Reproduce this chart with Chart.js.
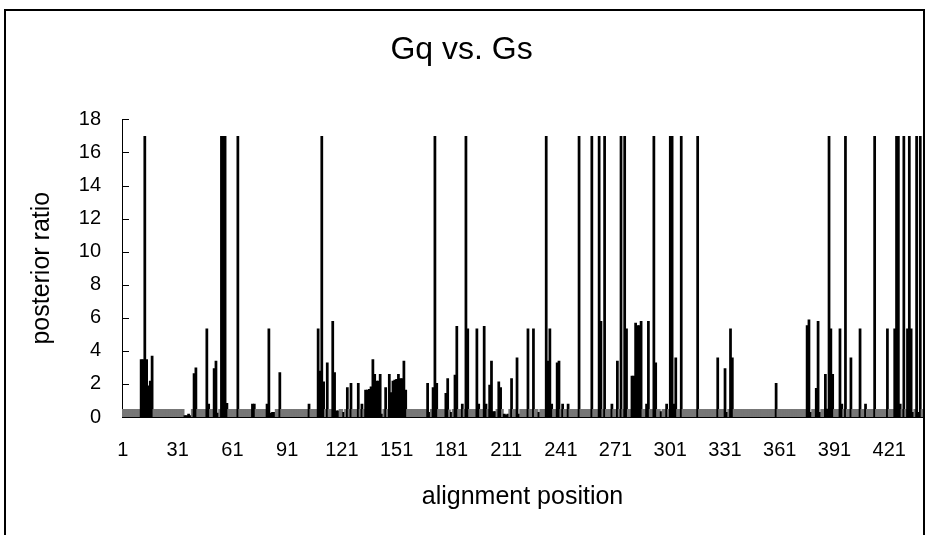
<!DOCTYPE html>
<html>
<head>
<meta charset="utf-8">
<script src="https://cdn.jsdelivr.net/npm/chart.js@4.4.1/dist/chart.umd.min.js"></script>
<style>
    body { margin: 0; background: #fff; overflow: hidden; }
    #wrap { position: relative; width: 928px; height: 535px; }
    #frame {
        position: absolute; left: 4px; top: 9px; width: 921px; height: 600px;
        border: 2px solid #000; box-sizing: border-box; pointer-events: none;
    }
</style>
</head>
<body>
<div id="wrap">
    <canvas id="ratioChart" width="928" height="535"></canvas>
    <div id="frame"></div>
</div>
<script>
// posterior ratio per alignment position (1..439), 30 per row
const posteriorRatio = [
    0.48,0.48,0.48,0.48,0.48,0.48,0.48,0.48,0.48,0.48, 3.5,3.5,17,3.5,1.9,2.2,3.7,0.48,0.48,0.48, 0.48,0.48,0.48,0.48,0.48,0.48,0.48,0.48,0.48,0.48,
    0.48,0.48,0.48,0.48, 0.1,0.1,0.2,0.1, 0.48, 2.65, 3.0, 0.48,0.48,0.48,0.48,0.48, 5.35, 0.8, 0.48,0.48, 2.95,3.4,0.25,0.48, 17,17,17, 0.85, 0.48,0.48,
    0.48,0.48,0.48, 17, 0.48,0.48,0.48,0.48,0.48,0.48,0.48, 0.8,0.8, 0.48,0.48,0.48,0.48,0.48,0.48, 0.8,5.35,0.25,0.3,0.3, 0.48,0.48, 2.7, 0.48,0.48,0.48,
    0.48,0.48,0.48,0.48,0.48,0.48,0.48,0.48,0.48,0.48,0.48,0.48, 0.8, 0.48,0.48,0.48,0.48, 5.35,2.8,17,2.15,0.48,3.3,0.48,0.48,5.8,2.7, 0.4,0.4,0.48,
    0.48,0.3,0.48, 1.8, 0.48, 2.05, 0.48,0.48,0.48, 2.05, 0.48, 0.8, 0.48, 1.65,1.65,1.7,1.85,3.5,2.6,2.2,2.2,2.6,0.2, 0.48, 1.8, 0.48, 2.6,1.5,2.2,2.25,
    2.3,2.6,2.35,2.35,3.4,1.65, 0.48,0.48,0.48,0.48,0.48,0.48,0.48,0.48,0.48,0.48,0.48, 2.05,0.3, 0.48, 1.8,17,2.05, 0.48,0.48,0.48,0.48, 1.45,2.35,0.45,
    0.3, 0.48, 2.55,5.5, 0.48,0.48, 0.8, 0.48, 17,5.35, 0.48,0.48,0.48,0.48, 5.35,0.8, 0.48,0.48, 5.5,0.8, 0.48, 1.95,3.4, 0.35,0.35,0.48, 2.15,1.8, 0.48,0.2,
    0.15,0.2,0.48, 2.35, 0.48,0.48, 3.6,0.2, 0.48,0.48,0.48,0.48, 5.35, 0.48,0.48, 5.35, 0.48,0.48,0.3,0.48,0.48,0.48, 17,3.4,5.35,0.8, 0.48,0.48, 3.3,3.4,
    0.48,0.8,0.48,0.48,0.8,0.48,0.48,0.48,0.48,0.48, 17, 0.48,0.48,0.48,0.48,0.48,0.48, 17, 0.48,0.48,0.48, 17,5.8,0.48,17, 0.48,0.48,0.48, 0.8,0.48,
    0.48,3.4,0.48,17,0.48,17,5.35,0.48,0.48, 2.5,2.5,5.7,5.55,5.55,5.8, 0.48,0.48,0.8,5.8,0.48,0.48, 17,3.3, 0.48,0.48,0.35,0.48,0.48, 0.8,0.48,
    17,17,0.8,3.6,0.48,0.48,17, 0.48,0.48,0.48,0.48,0.48,0.48,0.48,0.48, 17, 0.48,0.48,0.48,0.48,0.48,0.48,0.48,0.48,0.48,0.48, 3.6, 0.48,0.48,0.48,
    2.95,0.3,0.48,5.35,3.6, 0.48,0.48,0.48,0.48,0.48,0.48,0.48,0.48,0.48,0.48,0.48,0.48,0.48,0.48,0.48,0.48,0.48,0.48,0.48,0.48,0.48,0.48,0.48, 2.05, 0.48,
    0.48,0.48,0.48,0.48,0.48,0.48,0.48,0.48,0.48,0.48,0.48,0.48,0.48,0.48,0.48, 5.55,5.9,0.3,0.48,0.48,1.75,5.8,0.3,0.48,0.48,2.6,0.5,17,5.35,2.6,
    0.48,0.48,0.48, 5.35,0.8,0.48,17,0.48,0.48,3.6, 0.48,0.48,0.48,0.48, 5.35,0.48,0.48,0.8, 0.48,0.48,0.48,0.48, 17, 0.48,0.48,0.48,0.48,0.48,0.48, 5.35,
    0.48,0.48,0.48,5.35,17,17,0.8,0.48,17,0.48,5.35,17,5.35,0.3,0.48,17,0.3,17,0.48
];

// category axis: alignment positions, only every 30th one gets a label
const positions = Array.from({ length: posteriorRatio.length }, (_, i) => String(i + 1));
const xTickLabels = ['1', '31', '61', '91', '121', '151', '181', '211', '241', '271', '301', '331', '361', '391', '421'];
const yTickValues = [0, 2, 4, 6, 8, 10, 12, 14, 16, 18];

Chart.defaults.font.family = '"Liberation Sans", Arial, sans-serif';
Chart.defaults.color = '#000';

// Excel style tick marks that point into the plot area
const innerTicks = {
    id: 'innerTicks',
    afterDraw(chart) {
        const ctx = chart.ctx;
        const y = chart.scales.y;
        const left = chart.chartArea.left;
        ctx.save();
        ctx.strokeStyle = '#000';
        ctx.lineWidth = 1;
        yTickValues.forEach(v => {
            const py = Math.round(y.getPixelForValue(v)) + 0.5;
            ctx.beginPath();
            ctx.moveTo(left, py);
            ctx.lineTo(left + 7, py);
            ctx.stroke();
        });
        ctx.restore();
    }
};

const ctx = document.getElementById('ratioChart').getContext('2d');
new Chart(ctx, {
    type: 'bar',
    data: {
        labels: positions,
        datasets: [{
            data: posteriorRatio,
            // the long run of near-baseline bars reads as a grey hatch in the original
            backgroundColor: c => (c.raw > 0.4 && c.raw < 0.5) ? '#777777' : '#000',
            borderWidth: 0,
            barPercentage: 1.5,
            categoryPercentage: 1.0
        }]
    },
    options: {
        responsive: false,
        animation: false,
        layout: { padding: { left: 0, right: 5, top: 0, bottom: 0 } },
        plugins: {
            legend: { display: false },
            tooltip: { enabled: false },
            title: {
                display: true,
                text: 'Gq vs. Gs',
                font: { size: 32, weight: 'normal' },
                color: '#000',
                padding: { top: 31, bottom: 50 }
            }
        },
        scales: {
            x: {
                grid: {
                    display: true, color: 'rgba(0,0,0,0)', drawOnChartArea: false,
                    drawTicks: true, tickLength: 19
                },
                border: { display: true, color: '#000', width: 1 },
                ticks: {
                    autoSkip: false,
                    maxRotation: 0,
                    minRotation: 0,
                    padding: 2,
                    font: { size: 20 },
                    callback: function(value, index) {
                        const lbl = positions[index];
                        return xTickLabels.includes(lbl) ? lbl : '';
                    }
                },
                title: {
                    display: true,
                    text: 'alignment position',
                    font: { size: 25 },
                    padding: { top: 0, bottom: 23 }
                },
                afterFit: scale => { scale.height = 118; }
            },
            y: {
                min: 0,
                max: 18,
                grid: { display: false, drawTicks: false },
                border: { display: true, color: '#000', width: 1 },
                ticks: { stepSize: 2, padding: 21, font: { size: 20 } },
                title: {
                    display: true,
                    text: 'posterior ratio',
                    font: { size: 25 },
                    padding: { top: 27, bottom: 0 }
                },
                afterFit: scale => { scale.width = 122; }
            }
        }
    },
    plugins: [innerTicks]
});
</script>
</body>
</html>
